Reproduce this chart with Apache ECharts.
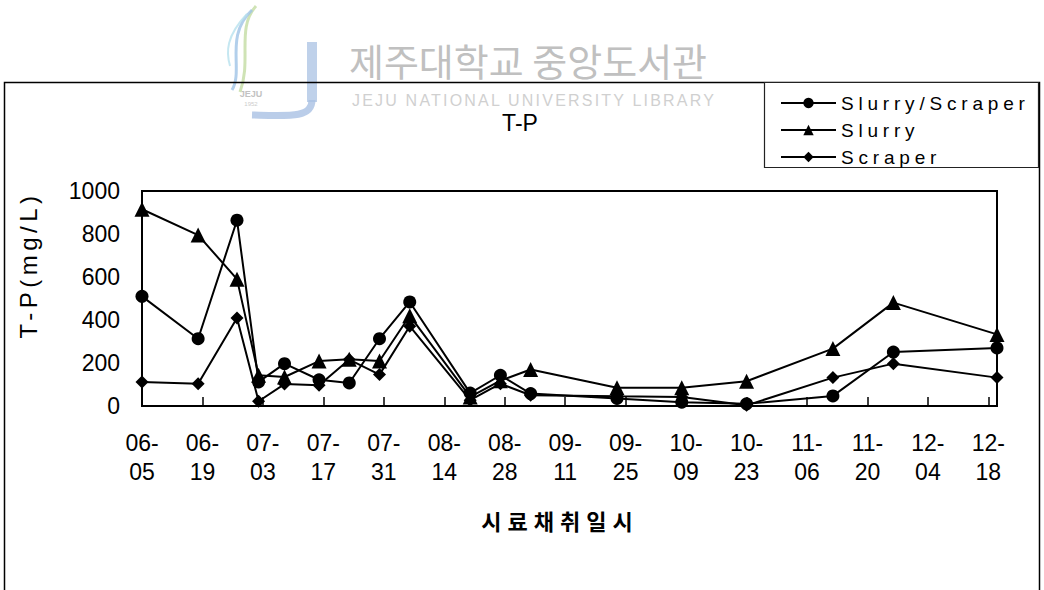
<!DOCTYPE html>
<html>
<head>
<meta charset="utf-8">
<script src="https://cdn.jsdelivr.net/npm/echarts@6/dist/echarts.min.js"></script>
<style>
  html, body { margin: 0; padding: 0; background: #fff; }
  #chart { width: 1044px; height: 590px; }
  /* wide character spacing of the legend, axis names and library caption */
  #chart text[style*="19px"] { letter-spacing: 4.8px; }
  #chart text[style*="24px"] { letter-spacing: 4.5px; }
  #chart text[style*="22px"] { letter-spacing: 6px; }
  #chart text[style*="16px"] { letter-spacing: 2.2px; }
</style>
</head>
<body>
<div id="chart"></div>
<script>
// Sampling dates (MM-DD) and T-P concentrations (mg/L)
const sampleDates = ['06-05', '06-18', '06-27', '07-02', '07-08', '07-16', '07-23', '07-30', '08-06',
                     '08-20', '08-27', '09-03', '09-23', '10-08', '10-23', '11-12', '11-26', '12-20'];
const slurryScraper = [510, 313, 864, 112, 197, 122, 107, 313, 484, 60, 143, 58, 35, 18, 10, 47, 251, 270];
const slurry        = [915, 795, 590, 143, 135, 209, 218, 209, 420, 42, 118, 170, 85, 85, 115, 267, 481, 333];
const scraper       = [112, 104, 409, 22, 102, 96, 216, 146, 371, 27, 104, 50, 45, 42, 3, 132, 197, 132];

// Date axis labels, every 14 days
const tickLabels = ['06-05', '06-19', '07-03', '07-17', '07-31', '08-14', '08-28', '09-11',
                    '09-25', '10-09', '10-23', '11-06', '11-20', '12-04', '12-18'];
const tickStep = 14;

const seriesNames = ['Slurry/Scraper', 'Slurry', 'Scraper'];

const YEAR = 2005;
function dayOffset(md) {
  const [m, d] = md.split('-').map(Number);
  const [m0, d0] = tickLabels[0].split('-').map(Number);
  return Math.round((Date.UTC(YEAR, m - 1, d) - Date.UTC(YEAR, m0 - 1, d0)) / 86400000);
}
const xDays = sampleDates.map(dayOffset);
const toPoints = vals => vals.map((v, i) => [xDays[i], v]);

const FONT = '"Liberation Sans", Arial, sans-serif';
const KFONT = '"Noto Sans CJK KR", sans-serif';

const dom = document.getElementById('chart');
let chart;
try {
  chart = echarts.init(dom, null, { renderer: 'svg' });
} catch (err) {
  chart = echarts.init(dom);
}

function lineSeries(name, data, symbol, size) {
  return {
    name, type: 'line', data: toPoints(data),
    symbol, symbolSize: size, showAllSymbol: true,
    lineStyle: { color: '#000', width: 2 },
    itemStyle: { color: '#000' },
    emphasis: { disabled: true },
    z: 3
  };
}

function curve(x1, y1, cx1, cy1, cx2, cy2, x2, y2, color, width) {
  return {
    type: 'bezierCurve', z: 1, silent: true,
    shape: { x1, y1, cpx1: cx1, cpy1: cy1, cpx2: cx2, cpy2: cy2, x2, y2 },
    style: { fill: 'none', stroke: color, lineWidth: width, opacity: 0.8 }
  };
}

chart.setOption({
  animation: false,
  backgroundColor: '#fff',
  grid: {
    left: 142, top: 191, width: 855, height: 215,
    show: true, borderColor: '#000', borderWidth: 2, backgroundColor: 'transparent'
  },
  xAxis: {
    type: 'value',
    min: 0,
    max: xDays[xDays.length - 1],
    interval: tickStep,
    axisLine: { show: true, lineStyle: { color: '#000', width: 2 } },
    axisTick: { show: true, inside: true, length: 9, lineStyle: { color: '#000', width: 1.5 } },
    splitLine: { show: false },
    axisLabel: {
      showMaxLabel: false,
      color: '#000', fontSize: 23, fontFamily: FONT, lineHeight: 29, margin: 22,
      formatter: v => {
        const i = v / tickStep;
        return Number.isInteger(i) && tickLabels[i] ? tickLabels[i].replace('-', '-\n') : '';
      }
    }
  },
  yAxis: {
    type: 'value', min: 0, max: 1000, interval: 200,
    axisLine: { show: true, lineStyle: { color: '#000', width: 2 } },
    axisTick: { show: false },
    splitLine: { show: false },
    axisLabel: { color: '#000', fontSize: 23, fontFamily: FONT, margin: 22, formatter: v => String(v) }
  },
  legend: {
    orient: 'vertical',
    left: 775, top: 88,
    itemWidth: 55, itemHeight: 13, itemGap: 7,
    data: seriesNames,
    selectedMode: false,
    textStyle: { color: '#000', fontSize: 19, fontFamily: FONT, lineHeight: 20 },
    z: 10
  },
  graphic: [
    // library emblem
    { type: 'rect', z: 1, silent: true,
      shape: { x: 307, y: 42, width: 10, height: 60 },
      style: { fill: '#a9c1e3', opacity: 0.75 } },
    curve(312, 100, 312, 118, 290, 116, 252, 115, '#a9c1e3', 7),
    curve(256, 6, 236, 28, 252, 60, 240, 92, '#c3dca2', 3),
    curve(252, 10, 224, 36, 244, 70, 232, 90, '#9fc3e6', 3),
    curve(247, 14, 226, 36, 226, 52, 230, 66, '#b6e1ee', 2),
    { type: 'text', z: 1, silent: true, x: 251, y: 94,
      style: { text: 'JEJU', fontSize: 9, fontFamily: FONT, fontWeight: 'bold', fill: '#c2c2c2',
               textAlign: 'center', textVerticalAlign: 'middle' } },
    { type: 'text', z: 1, silent: true, x: 251, y: 104,
      style: { text: '1952', fontSize: 6, fontFamily: FONT, fill: '#cccccc',
               textAlign: 'center', textVerticalAlign: 'middle' } },
    // library caption
    { type: 'text', z: 1, silent: true, x: 528, y: 59,
      style: { text: '제주대학교 중앙도서관', fontSize: 38, fontFamily: KFONT, fill: '#c0c0c0',
               textAlign: 'center', textVerticalAlign: 'middle' } },
    { type: 'text', z: 1, silent: true, x: 534, y: 100,
      style: { text: 'JEJU NATIONAL UNIVERSITY LIBRARY', fontSize: 16, fontFamily: FONT, fill: '#d0d0d0',
               textAlign: 'center', textVerticalAlign: 'middle' } },
    // outer chart frame
    { type: 'rect', z: 2, silent: true,
      shape: { x: 4.5, y: 82.5, width: 1035, height: 530 },
      style: { fill: 'none', stroke: '#000', lineWidth: 1.5 } },
    // legend box
    { type: 'rect', z: 5, silent: true,
      shape: { x: 764.5, y: 82.5, width: 274, height: 85 },
      style: { fill: '#fff', stroke: '#222', lineWidth: 1.2 } },
    // title
    { type: 'text', z: 6, silent: true, x: 520, y: 123,
      style: { text: 'T-P', fontSize: 23, fontFamily: FONT, fill: '#000',
               textAlign: 'center', textVerticalAlign: 'middle' } },
    // y axis name
    { type: 'text', z: 6, silent: true, x: 28, y: 265, rotation: Math.PI / 2,
      style: { text: 'T-P(mg/L)', fontSize: 24, fontFamily: FONT, fill: '#000',
               textAlign: 'center', textVerticalAlign: 'middle' } },
    // x axis name
    { type: 'text', z: 6, silent: true, x: 560, y: 520,
      style: { text: '시료채취일시', fontSize: 22, fontFamily: KFONT, fontWeight: 'bold', fill: '#000',
               textAlign: 'center', textVerticalAlign: 'middle' } }
  ],
  series: [
    lineSeries(seriesNames[0], slurryScraper, 'circle', 13),
    lineSeries(seriesNames[1], slurry, 'triangle', 15),
    lineSeries(seriesNames[2], scraper, 'diamond', 13)
  ]
});
</script>
</body>
</html>
